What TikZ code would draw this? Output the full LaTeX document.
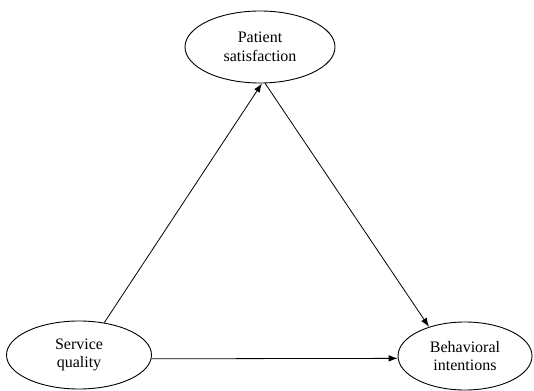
\documentclass[tikz,border=0pt]{standalone}
\usepackage{fontspec}
\setmainfont{Liberation Serif}
\usetikzlibrary{shapes.geometric,arrows.meta}
\begin{document}
\begin{tikzpicture}[x=1pt,y=-1pt,
  construct/.style={draw,ellipse,inner sep=0pt,align=center,line width=0.9pt,
    font=\fontsize{16}{18.5}\selectfont},
  link/.style={-{Latex[length=9pt,width=6.5pt]},line width=0.8pt}]
\useasboundingbox (0,0) rectangle (534,390);
\node[construct,minimum width=150,minimum height=72] (ps) at (260,47) {Patient\\satisfaction};
\node[construct,minimum width=145,minimum height=68] (sq) at (79,355) {Service\\quality};
\node[construct,minimum width=134,minimum height=68] (bi) at (465,356) {Behavioral\\intentions};
\draw[link] (sq.52) -- (ps.-87);
\draw[link] (ps.-82) -- (bi.141);
\draw[link] (sq.-3) -- (bi.182);
\end{tikzpicture}
\end{document}
